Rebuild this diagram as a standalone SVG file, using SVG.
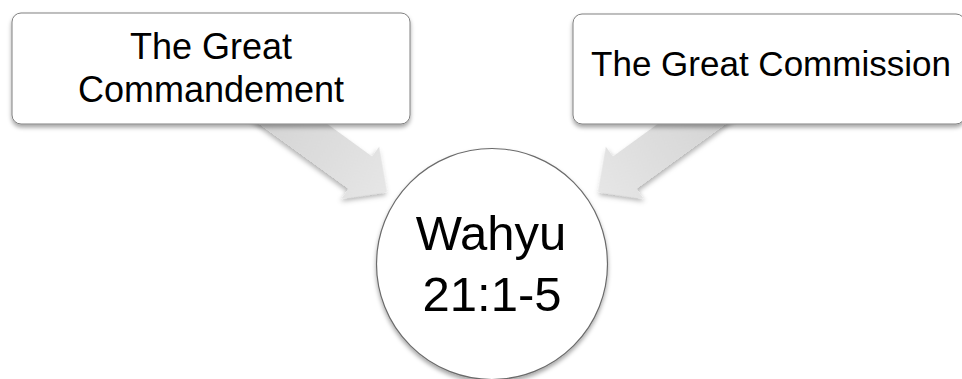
<svg xmlns="http://www.w3.org/2000/svg" width="962" height="379" viewBox="0 0 962 379">
  <style>
    .box { fill: #ffffff; stroke: #808080; stroke-width: 1; }
    .circ { fill: #ffffff; stroke: #6b6b6b; stroke-width: 1.2; }
    .lbl { font-family: "Liberation Sans", Arial, sans-serif; fill: #000000; text-anchor: middle; }
    .arrow { fill: url(#arrowGrad); }
  </style>
  <defs>
    <linearGradient id="arrowGrad" x1="0" y1="0" x2="1" y2="0">
      <stop offset="0" stop-color="#d2d2d2"/>
      <stop offset="0.6" stop-color="#dedede"/>
      <stop offset="1" stop-color="#e6e6e6"/>
    </linearGradient>
    <filter id="shadow" x="-20%" y="-20%" width="140%" height="150%">
      <feDropShadow dx="0" dy="3" stdDeviation="2.2" flood-color="#000000" flood-opacity="0.35"/>
    </filter>
    <filter id="ashadow" x="-20%" y="-30%" width="140%" height="160%">
      <feDropShadow dx="1" dy="3" stdDeviation="2.5" flood-color="#000000" flood-opacity="0.3"/>
    </filter>
  </defs>
  <rect width="962" height="379" fill="#ffffff"/>
  <g id="connectors">
    <path class="arrow" filter="url(#ashadow)" transform="translate(387,192) rotate(36)" d="M-160,-20 L-33,-20 L-33,-32 L0,0 L-33,32 L-33,20 L-160,20 Z"/>
    <path class="arrow" filter="url(#ashadow)" transform="translate(598,192) rotate(144) scale(1,-1)" d="M-160,-20 L-33,-20 L-33,-32 L0,0 L-33,32 L-33,20 L-160,20 Z"/>
  </g>
  <g id="node-commandment">
    <rect class="box" filter="url(#shadow)" x="12" y="13" width="398" height="111" rx="9"/>
    <text class="lbl" x="211" y="59" font-size="36">The Great</text>
    <text class="lbl" x="211" y="102" font-size="36">Commandement</text>
  </g>
  <g id="node-commission">
    <rect class="box" filter="url(#shadow)" x="573" y="14" width="392" height="110" rx="9"/>
    <text class="lbl" x="771" y="76" font-size="35">The Great Commission</text>
  </g>
  <g id="node-wahyu">
    <circle class="circ" filter="url(#shadow)" cx="492" cy="264" r="115.5"/>
    <text class="lbl" x="491" y="250" font-size="49">Wahyu</text>
    <text class="lbl" x="492" y="311" font-size="49">21:1-5</text>
  </g>
</svg>
